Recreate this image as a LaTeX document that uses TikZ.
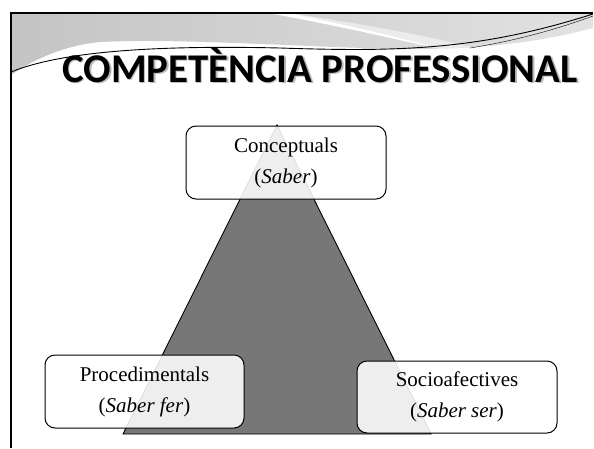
\documentclass[tikz,border=0pt]{standalone}
\usepackage{fontspec}
\setmainfont{Liberation Serif}
\newfontfamily\titlefont{Carlito}
\usetikzlibrary{shadings}
\definecolor{hdrdark}{HTML}{C4C4C4}
\definecolor{hdrlight}{HTML}{E2E2E2}
\definecolor{trigray}{HTML}{777777}
\tikzset{
  levelbox/.style={draw=black, line width=1pt, rounded corners=10pt, fill=white,
    fill opacity=0.88, text opacity=1, minimum width=200pt, minimum height=73pt,
    align=center, inner sep=0pt,
    font=\fontsize{21}{31}\selectfont},
  titletext/.style={font=\titlefont\bfseries\fontsize{40.8}{48}\selectfont, inner sep=0pt, anchor=base}
}
\begin{document}
\begin{tikzpicture}[x=1pt,y=-1pt]
\useasboundingbox (0,0) rectangle (594,448);
\fill[white] (0,0) rectangle (594,448);
% header gray swoosh
\shade[left color=hdrdark, right color=hdrlight]
  (11,13) -- (593,13) -- (593,28)
  .. controls (540,42) and (480,50) .. (400,49)
  .. controls (300,47) and (180,38) .. (100,42)
  .. controls (60,46) and (30,62) .. (11,75) -- cycle;
% white streak
\fill[white] (268,13) .. controls (340,26) and (390,38) .. (440,49)
  .. controls (390,34) and (330,22) .. (290,13) -- cycle;
\fill[white,opacity=0.5] (290,13) .. controls (360,24) and (420,34) .. (470,47)
  -- (440,49) .. controls (390,34) and (330,22) .. (290,13) -- cycle;
% black wave lines
\draw[line width=0.9pt] (11,72) .. controls (60,52) and (150,45) .. (280,48)
  .. controls (400,52) and (480,50) .. (593,14);
\draw[line width=0.4pt] (470,48) .. controls (520,40) and (560,28) .. (593,16);
% frame
\draw[line width=1.5pt] (11,448) -- (11,13) -- (593,13);
% title
\node[titletext, text=black!45, opacity=0.6] (titleshadow) at (321.5,83.5) {COMPETÈNCIA PROFESSIONAL};
\node[titletext] (title) at (320,82) {COMPETÈNCIA PROFESSIONAL};
% triangle
\coordinate (apex) at (277,125);
\coordinate (bl) at (123,434);
\coordinate (br) at (431,434);
\filldraw[fill=trigray, draw=black, line width=0.9pt] (apex) -- (bl) -- (br) -- cycle;
% boxes
\node[levelbox] (concept) at (286,162.5) {Conceptuals\\(\textit{Saber})};
\node[levelbox, minimum width=199pt] (proc) at (144.5,391.5) {Procedimentals\\(\textit{Saber fer})};
\node[levelbox, minimum height=72pt] (socio) at (457,397) {Socioafectives\\(\textit{Saber ser})};
\end{tikzpicture}
\end{document}
